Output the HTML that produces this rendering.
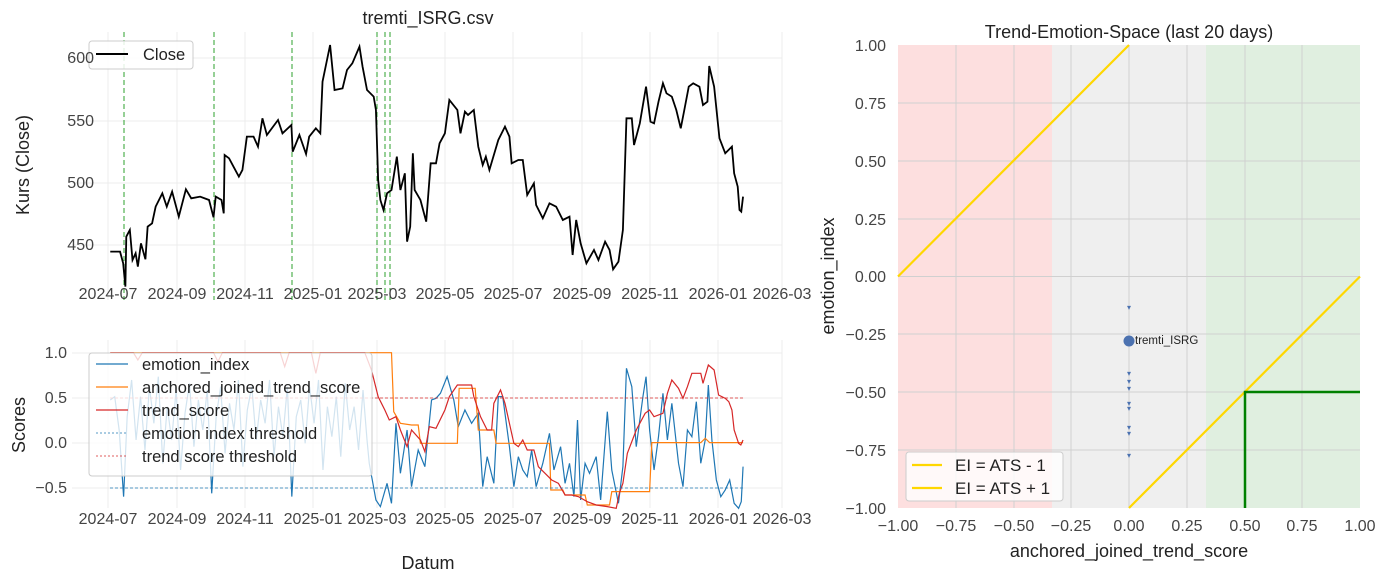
<!DOCTYPE html>
<html><head><meta charset="utf-8"><style>
body{margin:0;background:#fff;}
svg{display:block;font-family:"Liberation Sans",sans-serif;}
.t{font-size:16px;fill:#444;}
.l{font-size:18px;fill:#222;}
</style></head><body>
<svg width="1388" height="584" viewBox="0 0 1388 584">
<rect width="1388" height="584" fill="#fff"/>
<!-- TOP LEFT -->
<g stroke="#ececec" stroke-width="1">
<line x1="72" x2="782" y1="58" y2="58"/><line x1="72" x2="782" y1="121" y2="121"/><line x1="72" x2="782" y1="183" y2="183"/><line x1="72" x2="782" y1="245" y2="245"/>
<line x1="108" x2="108" y1="32" y2="300"/><line x1="177" x2="177" y1="32" y2="300"/><line x1="245" x2="245" y1="32" y2="300"/><line x1="313" x2="313" y1="32" y2="300"/><line x1="377" x2="377" y1="32" y2="300"/><line x1="445" x2="445" y1="32" y2="300"/><line x1="513" x2="513" y1="32" y2="300"/><line x1="582" x2="582" y1="32" y2="300"/><line x1="650" x2="650" y1="32" y2="300"/><line x1="718" x2="718" y1="32" y2="300"/><line x1="782" x2="782" y1="32" y2="300"/>
</g>
<g stroke="#2ca02c" stroke-width="1" stroke-dasharray="5,3">
<line x1="124" x2="124" y1="32" y2="300"/><line x1="214" x2="214" y1="32" y2="300"/><line x1="292" x2="292" y1="32" y2="300"/><line x1="377" x2="377" y1="32" y2="300"/><line x1="385" x2="385" y1="32" y2="300"/><line x1="390" x2="390" y1="32" y2="300"/>
</g>
<g transform="translate(80,30) scale(0.445,0.3333)">
<polyline vector-effect="non-scaling-stroke" fill="none" stroke="#000" stroke-width="1.8" points="68,665 90,665 97,700 102,770 104,620 112,600 118,690 125,670 130,710 137,640 147,688 152,590 162,580 170,530 185,490 195,530 207,485 222,560 238,478 250,505 270,500 290,510 300,562 305,500 318,510 323,550 325,375 335,385 345,410 357,440 365,420 375,320 390,320 400,350 410,265 420,315 445,270 455,310 475,285 478,365 493,315 508,372 515,320 530,295 540,310 545,155 562,45 572,180 590,175 600,120 612,100 628,50 635,110 645,180 660,200 665,240 670,450 675,510 682,540 690,490 700,480 712,380 720,480 730,430 735,635 742,590 748,370 752,480 765,510 778,575 788,400 800,400 808,340 820,310 830,210 848,240 855,310 865,245 872,255 885,240 895,350 905,405 912,380 920,420 940,330 955,290 965,320 970,400 985,390 995,390 1005,495 1020,460 1025,525 1040,565 1055,520 1070,530 1085,570 1100,560 1107,675 1115,570 1125,640 1138,700 1155,660 1165,690 1180,635 1190,660 1198,718 1210,695 1220,600 1228,265 1240,265 1245,345 1258,280 1272,170 1282,275 1290,280 1300,215 1310,160 1318,190 1330,200 1340,240 1350,295 1358,240 1368,170 1378,160 1392,170 1400,225 1410,215 1414,108 1425,170 1437,325 1450,370 1465,350 1470,430 1478,470 1482,540 1486,545 1490,500"/>
</g>
<rect x="89" y="41" width="104" height="28" rx="3" fill="#fff" fill-opacity="0.85" stroke="#ccc"/>
<line x1="96" x2="128" y1="54" y2="54" stroke="#000" stroke-width="2"/>
<text x="143" y="60" style="font-size:16.5px;fill:#222">Close</text>
<text x="428" y="24" class="l" text-anchor="middle">tremti_ISRG.csv</text>
<g class="t" text-anchor="end"><text x="94" y="63">600</text><text x="94" y="126">550</text><text x="94" y="188">500</text><text x="94" y="250">450</text></g>
<g class="t" text-anchor="middle"><text x="108" y="299">2024-07</text><text x="177" y="299">2024-09</text><text x="245" y="299">2024-11</text><text x="313" y="299">2025-01</text><text x="377" y="299">2025-03</text><text x="445" y="299">2025-05</text><text x="513" y="299">2025-07</text><text x="582" y="299">2025-09</text><text x="650" y="299">2025-11</text><text x="718" y="299">2026-01</text><text x="782" y="299">2026-03</text></g>
<text transform="translate(29,165) rotate(-90)" class="l" text-anchor="middle">Kurs (Close)</text>
<!-- BOTTOM LEFT -->
<g stroke="#ececec" stroke-width="1">
<line x1="72" x2="782" y1="353" y2="353"/><line x1="72" x2="782" y1="398" y2="398"/><line x1="72" x2="782" y1="443" y2="443"/><line x1="72" x2="782" y1="488" y2="488"/>
<line x1="108" x2="108" y1="340" y2="508"/><line x1="177" x2="177" y1="340" y2="508"/><line x1="245" x2="245" y1="340" y2="508"/><line x1="313" x2="313" y1="340" y2="508"/><line x1="377" x2="377" y1="340" y2="508"/><line x1="445" x2="445" y1="340" y2="508"/><line x1="513" x2="513" y1="340" y2="508"/><line x1="582" x2="582" y1="340" y2="508"/><line x1="650" x2="650" y1="340" y2="508"/><line x1="718" x2="718" y1="340" y2="508"/><line x1="782" x2="782" y1="340" y2="508"/>
</g>
<g transform="translate(80,330) scale(0.445,0.3333)" fill="none">
<polyline vector-effect="non-scaling-stroke" stroke="#1f77b4" stroke-width="1.2" points="68,210 78,200 88,300 98,500 106,260 116,150 126,330 136,200 146,360 156,170 166,280 176,140 186,400 196,230 206,330 216,180 226,420 236,250 246,160 256,350 266,210 276,300 286,180 296,490 306,260 316,170 326,370 336,220 346,300 356,150 366,410 376,240 386,170 396,330 406,210 416,280 426,150 436,380 446,230 456,320 466,170 476,500 486,260 496,210 506,340 516,170 526,280 536,150 546,420 556,230 566,320 576,200 586,380 596,160 606,300 616,230 626,360 636,180 645,330 650,400 665,510 675,530 690,460 700,520 710,280 720,430 735,300 745,470 760,360 775,410 790,210 800,205 810,190 825,140 840,210 850,290 865,240 880,280 895,250 905,470 915,380 930,460 940,200 950,200 965,350 975,470 985,380 995,420 1005,440 1015,360 1025,470 1040,400 1055,310 1065,420 1080,350 1090,460 1100,400 1110,500 1118,270 1125,510 1135,400 1145,430 1160,380 1170,510 1185,245 1195,420 1210,520 1220,410 1228,115 1240,170 1250,350 1265,200 1272,140 1280,300 1290,420 1300,320 1310,190 1320,330 1330,220 1345,400 1355,470 1365,300 1375,320 1385,215 1395,400 1405,330 1412,165 1420,330 1430,450 1440,500 1450,480 1460,450 1470,520 1480,535 1486,515 1490,410"/>
<polyline vector-effect="non-scaling-stroke" stroke="#ff7f0e" stroke-width="1.2" points="68,68 700,68 705,245 720,280 745,285 760,285 765,340 848,340 852,175 888,175 895,300 930,300 935,340 1055,340 1058,480 1085,480 1090,495 1135,495 1140,525 1190,525 1195,485 1280,485 1285,338 1395,338 1405,325 1415,338 1490,338"/>
<polyline vector-effect="non-scaling-stroke" stroke="#d62728" stroke-width="1.2" points="68,68 120,68 130,90 140,68 300,68 310,95 320,68 450,68 460,110 470,68 520,68 530,130 540,68 640,68 655,120 670,200 685,240 695,270 710,260 720,300 735,350 745,300 765,330 775,365 785,290 800,295 820,240 830,200 848,165 880,165 885,200 900,260 915,300 925,300 930,220 945,180 955,220 965,280 975,340 985,350 995,330 1005,360 1020,360 1030,410 1045,430 1060,450 1075,460 1090,495 1105,495 1120,500 1140,515 1160,525 1185,530 1205,535 1212,490 1220,460 1230,370 1250,300 1270,250 1280,240 1290,260 1310,250 1320,190 1330,150 1345,175 1355,205 1365,170 1375,130 1395,130 1400,160 1412,105 1425,120 1435,195 1450,205 1458,215 1465,240 1470,300 1480,340 1485,345 1490,330"/>
</g>
<line x1="110" x2="743" y1="488" y2="488" stroke="#1f77b4" stroke-width="0.8" stroke-dasharray="3,2"/>
<line x1="110" x2="743" y1="398" y2="398" stroke="#d62728" stroke-width="0.8" stroke-dasharray="3,2"/>
<rect x="89" y="353" width="283" height="123" rx="3" fill="#fff" fill-opacity="0.8" stroke="#ccc"/>
<g style="font-size:16.5px;fill:#222">
<line x1="96" x2="128" y1="364" y2="364" stroke="#1f77b4" stroke-width="1.2"/><text x="142" y="370">emotion_index</text>
<line x1="96" x2="128" y1="387" y2="387" stroke="#ff7f0e" stroke-width="1.2"/><text x="142" y="393">anchored_joined_trend_score</text>
<line x1="96" x2="128" y1="410" y2="410" stroke="#d62728" stroke-width="1.2"/><text x="142" y="416">trend_score</text>
<line x1="96" x2="128" y1="433" y2="433" stroke="#1f77b4" stroke-width="0.8" stroke-dasharray="2,2"/><text x="142" y="439">emotion index threshold</text>
<line x1="96" x2="128" y1="456" y2="456" stroke="#d62728" stroke-width="0.8" stroke-dasharray="2,2"/><text x="142" y="462">trend score threshold</text>
</g>
<g class="t" text-anchor="end"><text x="67" y="358">1.0</text><text x="67" y="403">0.5</text><text x="67" y="448">0.0</text><text x="67" y="493">−0.5</text></g>
<g class="t" text-anchor="middle"><text x="108" y="524">2024-07</text><text x="177" y="524">2024-09</text><text x="245" y="524">2024-11</text><text x="313" y="524">2025-01</text><text x="377" y="524">2025-03</text><text x="445" y="524">2025-05</text><text x="513" y="524">2025-07</text><text x="582" y="524">2025-09</text><text x="650" y="524">2025-11</text><text x="718" y="524">2026-01</text><text x="782" y="524">2026-03</text></g>
<text x="428" y="569" class="l" text-anchor="middle">Datum</text>
<text transform="translate(25,425) rotate(-90)" class="l" text-anchor="middle">Scores</text>
<!-- RIGHT -->
<rect x="898" y="45" width="154" height="463" fill="#fddfdf"/>
<rect x="1052" y="45" width="154" height="463" fill="#efefef"/>
<rect x="1206" y="45" width="154" height="463" fill="#e0efe0"/>
<g stroke="#d0d0d0" stroke-width="1">
<line x1="898" x2="1360" y1="103" y2="103"/><line x1="898" x2="1360" y1="161" y2="161"/><line x1="898" x2="1360" y1="219" y2="219"/><line x1="898" x2="1360" y1="276.5" y2="276.5"/><line x1="898" x2="1360" y1="334" y2="334"/><line x1="898" x2="1360" y1="392" y2="392"/><line x1="898" x2="1360" y1="450" y2="450"/>
<line x1="956" x2="956" y1="45" y2="508"/><line x1="1014" x2="1014" y1="45" y2="508"/><line x1="1071" x2="1071" y1="45" y2="508"/><line x1="1129" x2="1129" y1="45" y2="508"/><line x1="1187" x2="1187" y1="45" y2="508"/><line x1="1245" x2="1245" y1="45" y2="508"/><line x1="1302" x2="1302" y1="45" y2="508"/>
</g>
<line x1="898" y1="276.5" x2="1129" y2="45" stroke="#ffd700" stroke-width="2.2"/>
<line x1="1129" y1="508" x2="1360" y2="276.5" stroke="#ffd700" stroke-width="2.2"/>
<polyline points="1245,508 1245,392 1360,392" fill="none" stroke="#008000" stroke-width="2.5"/>
<g fill="#4c72b0" font-size="8" text-anchor="middle">
<text x="1129" y="310">▾</text><text x="1129" y="376">▾</text><text x="1129" y="384">▾</text><text x="1129" y="391">▾</text><text x="1129" y="406">▾</text><text x="1129" y="411">▾</text><text x="1129" y="430">▾</text><text x="1129" y="436">▾</text><text x="1129" y="458">▾</text>
</g>
<circle cx="1129" cy="341" r="5.5" fill="#4c72b0"/>
<text x="1135" y="344" font-size="11.5" fill="#222">tremti_ISRG</text>
<rect x="906" y="452" width="157" height="49" rx="3" fill="#fff" fill-opacity="0.8" stroke="#ccc"/>
<line x1="912" x2="942" y1="465" y2="465" stroke="#ffd700" stroke-width="2.2"/><text x="955" y="471" style="font-size:17px;fill:#222">EI = ATS - 1</text>
<line x1="912" x2="942" y1="488" y2="488" stroke="#ffd700" stroke-width="2.2"/><text x="955" y="494" style="font-size:17px;fill:#222">EI = ATS + 1</text>
<g class="t" text-anchor="end"><text x="886" y="51">1.00</text><text x="886" y="109">0.75</text><text x="886" y="167">0.50</text><text x="886" y="225">0.25</text><text x="886" y="282">0.00</text><text x="886" y="340">−0.25</text><text x="886" y="398">−0.50</text><text x="886" y="456">−0.75</text><text x="886" y="514">−1.00</text></g>
<g class="t" text-anchor="middle"><text x="898" y="531">−1.00</text><text x="956" y="531">−0.75</text><text x="1014" y="531">−0.50</text><text x="1071" y="531">−0.25</text><text x="1129" y="531">0.00</text><text x="1187" y="531">0.25</text><text x="1245" y="531">0.50</text><text x="1302" y="531">0.75</text><text x="1360" y="531">1.00</text></g>
<text x="1129" y="38" class="l" text-anchor="middle">Trend-Emotion-Space (last 20 days)</text>
<text x="1129" y="557" class="l" text-anchor="middle">anchored_joined_trend_score</text>
<text transform="translate(834,276) rotate(-90)" class="l" text-anchor="middle">emotion_index</text>
</svg>
</body></html>
